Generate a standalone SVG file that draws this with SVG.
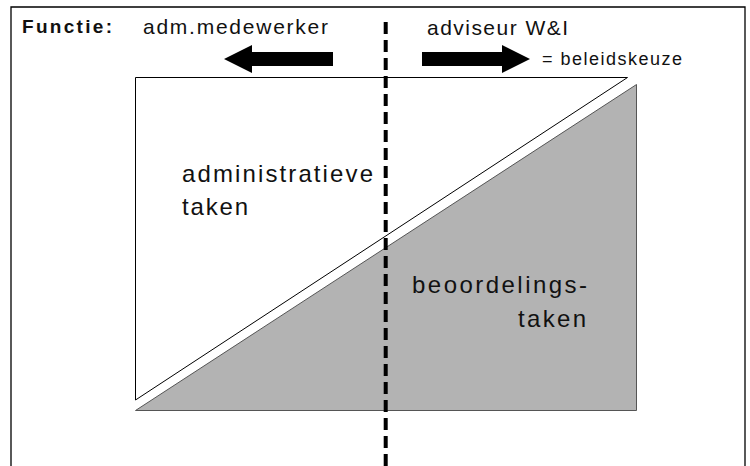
<svg xmlns="http://www.w3.org/2000/svg" width="750" height="466" viewBox="0 0 750 466">
  <style>
    .t { font-family: "Liberation Sans Narrow", "Liberation Sans", Arial, sans-serif; fill: #111; }
    .frame { fill: none; stroke: #000; stroke-width: 1.3; }
  </style>
  <rect width="750" height="466" fill="#fff"/>

  <!-- outer frame (open at the bottom) -->
  <path class="frame" d="M11,466 V7 H745 V466"/>

  <!-- header labels -->
  <g id="header">
    <text class="t" x="22" y="33" font-size="19" font-weight="bold" textLength="90" lengthAdjust="spacing">Functie:</text>
    <text class="t" x="143" y="34" font-size="21" textLength="185" lengthAdjust="spacing">adm.medewerker</text>
    <text class="t" x="427" y="35" font-size="21" textLength="141" lengthAdjust="spacing">adviseur W&amp;I</text>
    <text class="t" x="542" y="65" font-size="18" textLength="140" lengthAdjust="spacing">= beleidskeuze</text>
  </g>

  <!-- direction arrows -->
  <g id="arrow-left">
    <polygon points="224,59 252,45 252,52 333,52 333,66 252,66 252,73" fill="#000"/>
  </g>
  <g id="arrow-right">
    <polygon points="422,52 502,52 502,45 530,59 502,73 502,66 422,66" fill="#000"/>
  </g>

  <!-- administrative tasks (white upper triangle) -->
  <g id="administratief">
    <polygon points="135.5,77.5 627.5,77.5 135.5,400" fill="#fff" stroke="#000" stroke-width="1"/>
    <text class="t" x="182" y="182" font-size="24" textLength="191" lengthAdjust="spacing">administratieve</text>
    <text class="t" x="182" y="215" font-size="24" textLength="66" lengthAdjust="spacing">taken</text>
  </g>

  <!-- assessment tasks (grey lower triangle) -->
  <g id="beoordeling">
    <polygon points="135.5,410.5 636.5,84.5 636.5,410.5" fill="#b3b3b3" stroke="#555" stroke-width="1"/>
    <text class="t" x="412" y="293" font-size="24" textLength="175" lengthAdjust="spacing">beoordelings-</text>
    <text class="t" x="518" y="327" font-size="24" textLength="68" lengthAdjust="spacing">taken</text>
  </g>

  <!-- dividing line between the two functions -->
  <g id="connectors">
    <line x1="385.7" y1="22" x2="385.7" y2="466" stroke="#000" stroke-width="4" stroke-dasharray="12,6"/>
  </g>
</svg>
